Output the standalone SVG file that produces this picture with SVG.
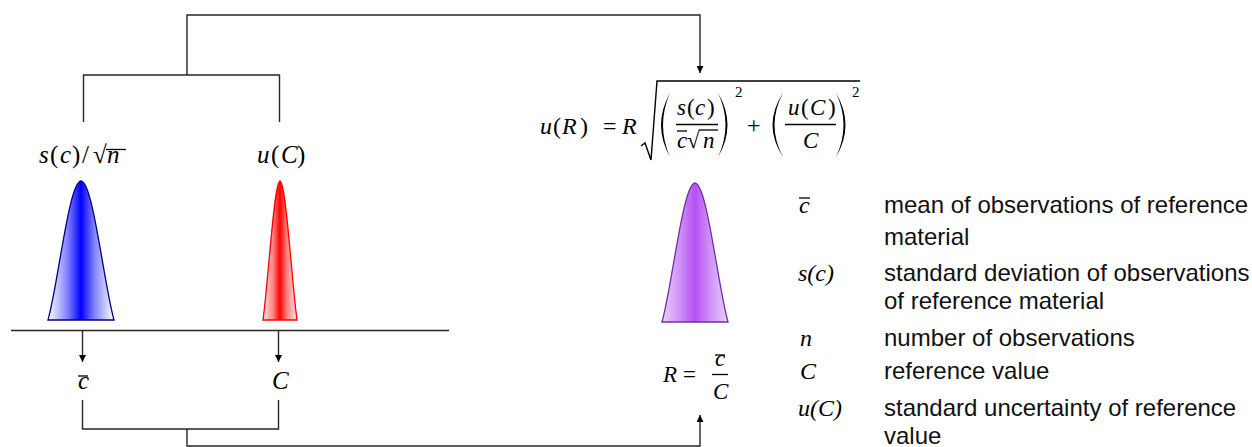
<svg xmlns="http://www.w3.org/2000/svg" width="1252" height="447" viewBox="0 0 1252 447">
<style>
.ln{fill:none;stroke:#262626;stroke-width:1.4}
.m{font-family:"Liberation Serif",serif;font-style:italic;fill:#000}
.up{font-style:normal}
.lg{font-family:"Liberation Sans",Arial,sans-serif;font-size:24px;fill:#111}
.bar{stroke:#000;stroke-width:1.3;fill:none}
</style>
<defs>
<marker id="arr" viewBox="0 0 10 10" refX="10" refY="5" markerWidth="9" markerHeight="7" markerUnits="userSpaceOnUse" orient="auto"><path d="M0,0 L10,5 L0,10 z" fill="#000"/></marker>
<linearGradient id="gb" x1="0" y1="0" x2="1" y2="0">
<stop offset="0" stop-color="#ffffff"/><stop offset="0.3" stop-color="#8080ff"/><stop offset="0.5" stop-color="#0000ff"/><stop offset="0.7" stop-color="#8080ff"/><stop offset="1" stop-color="#ffffff"/>
</linearGradient>
<linearGradient id="gr" x1="0" y1="0" x2="1" y2="0">
<stop offset="0" stop-color="#ffe6e6"/><stop offset="0.3" stop-color="#ff8080"/><stop offset="0.5" stop-color="#ff0000"/><stop offset="0.7" stop-color="#ff8080"/><stop offset="1" stop-color="#ffe6e6"/>
</linearGradient>
<linearGradient id="gp" x1="0" y1="0" x2="1" y2="0">
<stop offset="0" stop-color="#ecd0fb"/><stop offset="0.3" stop-color="#cc8af6"/><stop offset="0.5" stop-color="#b450f2"/><stop offset="0.7" stop-color="#cc8af6"/><stop offset="1" stop-color="#ecd0fb"/>
</linearGradient>
</defs>

<g id="connectors">
<path class="ln" d="M187,75 V15 H700 V73" marker-end="url(#arr)"/>
<path class="ln" d="M83.5,122 V75 H279.5 V122"/>
<path class="ln" d="M11,330.5 H449"/>
<path class="ln" d="M82.5,330 V362" marker-end="url(#arr)"/>
<path class="ln" d="M278.5,330 V362" marker-end="url(#arr)"/>
<path class="ln" d="M82.5,400 V429 H278.5 V400"/>
<path class="ln" d="M187,429 V446 H700 V415" marker-end="url(#arr)"/>
</g>

<g id="node-sample">
<text class="m" y="163" font-size="25"><tspan x="39">s</tspan><tspan class="up" x="50">(</tspan><tspan x="60">c</tspan><tspan class="up" x="72">)</tspan><tspan class="up" x="82">/</tspan><tspan class="up" x="93">√</tspan><tspan x="107">n</tspan></text>
<path class="bar" d="M106,149.5 H126"/>
<path d="M48,320 C58,285 69,181 81,181 C93,181 104,285 114,320 Z" fill="url(#gb)" stroke="#000080" stroke-width="1.3"/>
<text class="m" x="78" y="389" font-size="25">c</text>
<path class="bar" d="M78,376 H88"/>
</g>

<g id="node-reference">
<text class="m" y="163" font-size="25"><tspan x="257">u</tspan><tspan class="up" x="271">(</tspan><tspan x="281">C</tspan><tspan class="up" x="297">)</tspan></text>
<path d="M263,320 C268,285 274,181 280,181 C286,181 292,285 297,320 Z" fill="url(#gr)" stroke="#ff0000" stroke-width="1.3"/>
<text class="m" x="272" y="389" font-size="25">C</text>
</g>

<g id="node-result">
<text class="m" y="134" font-size="24"><tspan x="540">u</tspan><tspan class="up" x="553">(</tspan><tspan x="562">R</tspan><tspan class="up" x="580">)</tspan><tspan class="up" x="603">=</tspan><tspan x="622">R</tspan></text>
<path d="M641,146 L645,143 L651,160 L657,81 H860" fill="none" stroke="#000" stroke-width="1.4"/>
<path d="M670,93 Q652,125 670,157 Q656,125 670,93 Z" fill="#000"/>
<path d="M718,93 Q737,125 718,157 Q733,125 718,93 Z" fill="#000"/>
<path d="M783,93 Q762,125 783,157 Q766,125 783,93 Z" fill="#000"/>
<path d="M836,93 Q855,125 836,157 Q851,125 836,93 Z" fill="#000"/>
<text class="m" y="115" font-size="23"><tspan x="677">s</tspan><tspan class="up" x="687">(</tspan><tspan x="695">c</tspan><tspan class="up" x="707">)</tspan></text>
<path class="bar" d="M676,124.5 H718"/>
<text class="m" y="148" font-size="23"><tspan x="677">c</tspan><tspan class="up" x="687">√</tspan><tspan x="703">n</tspan></text>
<path class="bar" d="M677,131 H687"/>
<path class="bar" d="M699,130 H718"/>
<text class="m up" x="735" y="97" font-size="15">2</text>
<text class="m up" x="747" y="133" font-size="24">+</text>
<text class="m" y="115" font-size="23"><tspan x="788">u</tspan><tspan class="up" x="801">(</tspan><tspan x="810">C</tspan><tspan class="up" x="828">)</tspan></text>
<path class="bar" d="M785,124.5 H836"/>
<text class="m" x="803" y="148" font-size="23">C</text>
<text class="m up" x="852" y="97" font-size="15">2</text>
<path d="M662,322 C672,287 683,183 695,183 C707,183 718,287 728,322 Z" fill="url(#gp)" stroke="#7030a0" stroke-width="1.3"/>
<text class="m" y="382" font-size="23"><tspan x="663">R</tspan><tspan class="up" x="683">=</tspan></text>
<text class="m" x="715" y="366" font-size="23">c</text>
<path class="bar" d="M715,355 H725"/>
<path class="bar" d="M712,374.5 H728"/>
<text class="m" x="713" y="399" font-size="23">C</text>
</g>

<g id="legend">
<text class="m" x="799" y="213" font-size="24">c</text>
<path class="bar" d="M799,198 H810"/>
<text class="lg" x="884" y="213">mean of observations of reference</text>
<text class="lg" x="884" y="245">material</text>
<text class="m" x="798" y="281" font-size="24">s(c)</text>
<text class="lg" x="884" y="281">standard deviation of observations</text>
<text class="lg" x="884" y="309">of reference material</text>
<text class="m" x="800" y="346" font-size="24">n</text>
<text class="lg" x="884" y="346">number of observations</text>
<text class="m" x="800" y="379" font-size="24">C</text>
<text class="lg" x="884" y="379">reference value</text>
<text class="m" x="798" y="416" font-size="24">u(C)</text>
<text class="lg" x="884" y="416">standard uncertainty of reference</text>
<text class="lg" x="884" y="444">value</text>
</g>
</svg>
